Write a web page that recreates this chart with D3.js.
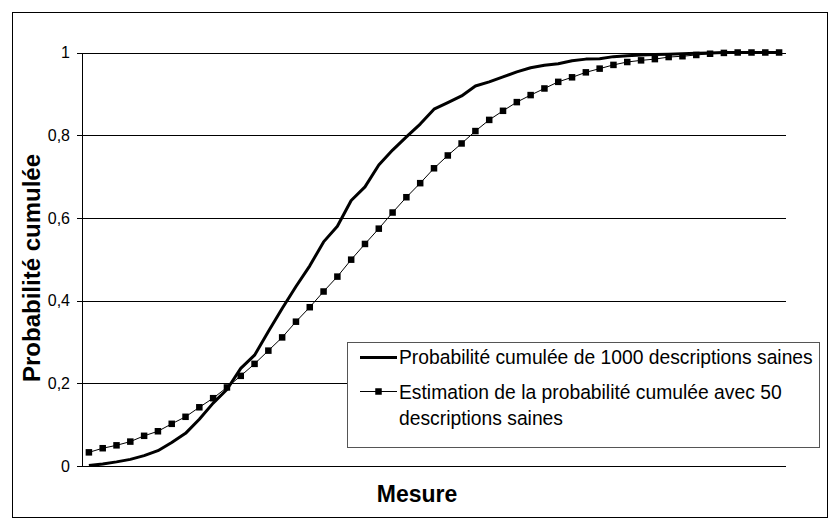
<!DOCTYPE html>
<html>
<head>
<meta charset="utf-8">
<script src="https://cdn.jsdelivr.net/npm/d3@7"></script>
<style>
  body { margin: 0; background: #fff; }
  text { font-family: "Liberation Sans", Arial, sans-serif; }
</style>
</head>
<body>
<div id="chart"></div>
<script>
// data (51 categories, no x labels)
var sample1000 = [0.001, 0.005, 0.010, 0.016, 0.025, 0.037, 0.057, 0.079, 0.113, 0.152,
  0.185, 0.236, 0.268, 0.325, 0.381, 0.434, 0.484, 0.542, 0.580, 0.642,
  0.675, 0.728, 0.764, 0.796, 0.827, 0.863, 0.879, 0.895, 0.919, 0.929,
  0.941, 0.953, 0.963, 0.969, 0.973, 0.980, 0.984, 0.985, 0.990, 0.992,
  0.994, 0.995, 0.996, 0.997, 0.998, 0.999, 1.0, 1.0, 1.0, 1.0, 1.0];
var estim50 = [0.033, 0.043, 0.050, 0.059, 0.073, 0.084, 0.102, 0.119, 0.142, 0.164,
  0.190, 0.218, 0.247, 0.279, 0.311, 0.349, 0.384, 0.422, 0.458, 0.499,
  0.537, 0.574, 0.613, 0.650, 0.684, 0.720, 0.751, 0.780, 0.810, 0.837,
  0.859, 0.880, 0.897, 0.913, 0.929, 0.940, 0.952, 0.961, 0.970, 0.977,
  0.981, 0.984, 0.989, 0.991, 0.994, 0.997, 0.999, 1.0, 1.0, 1.0, 1.0];
var yTicks = [0, 0.2, 0.4, 0.6, 0.8, 1];
var yTickLabels = ["0", "0,2", "0,4", "0,6", "0,8", "1"];
var seriesNames = ["Probabilité cumulée de 1000 descriptions saines",
  "Estimation de la probabilité cumulée avec 50", "descriptions saines"];

var width = 829, height = 520;
var plotL = 82, plotR = 786, plotT = 52.5, plotB = 466;

var svg = d3.select("#chart").append("svg")
  .attr("width", width)
  .attr("height", height);

svg.append("rect")
  .attr("x", 12.5).attr("y", 12.5)
  .attr("width", 815).attr("height", 505)
  .attr("fill", "#fff").attr("stroke", "#000");

var x = d3.scaleBand()
  .domain(d3.range(sample1000.length))
  .range([plotL, plotR])
  .padding(0);
var y = d3.scaleLinear().domain([0, 1]).range([plotB, plotT]);
var cx = function(i) { return x(i) + x.bandwidth() / 2; };

// gridlines
svg.selectAll(".grid")
  .data(yTicks.filter(function(d) { return d > 0; }))
  .enter().append("line")
    .attr("x1", plotL).attr("x2", plotR)
    .attr("y1", function(d) { return Math.round(y(d)) + 0.5; })
    .attr("y2", function(d) { return Math.round(y(d)) + 0.5; })
    .attr("stroke", "#000").attr("stroke-width", 1);

// y axis
var yAxis = d3.axisLeft(y)
  .tickValues(yTicks)
  .tickSize(5)
  .tickPadding(7)
  .tickFormat(function(d, i) { return yTickLabels[i]; });
var gy = svg.append("g")
  .attr("transform", "translate(" + plotL + ",0)")
  .call(yAxis);
gy.select(".domain").attr("stroke", "#000").attr("shape-rendering", "crispEdges");
gy.selectAll(".tick line").attr("stroke", "#000").attr("shape-rendering", "crispEdges");
gy.selectAll(".tick text")
  .style("font-family", "'Liberation Sans', Arial, sans-serif")
  .style("font-size", "16px")
  .attr("fill", "#000");

// x axis line (no ticks, no labels)
svg.append("line")
  .attr("x1", plotL).attr("x2", plotR)
  .attr("y1", plotB).attr("y2", plotB)
  .attr("stroke", "#000")
  .attr("shape-rendering", "crispEdges");

var line = d3.line()
  .x(function(d, i) { return cx(i); })
  .y(function(d) { return y(d); });

svg.append("path")
  .datum(estim50)
  .attr("d", line)
  .attr("fill", "none")
  .attr("stroke", "#000")
  .attr("stroke-width", 1);

svg.selectAll(".mark")
  .data(estim50)
  .enter().append("rect")
    .attr("x", function(d, i) { return cx(i) - 3.25; })
    .attr("y", function(d) { return y(d) - 3.25; })
    .attr("width", 6.5).attr("height", 6.5)
    .attr("fill", "#000");

svg.append("path")
  .datum(sample1000)
  .attr("d", line)
  .attr("fill", "none")
  .attr("stroke", "#000")
  .attr("stroke-width", 3)
  .attr("stroke-linejoin", "round");

// axis titles
svg.append("text")
  .attr("x", 417).attr("y", 502)
  .attr("text-anchor", "middle")
  .style("font-size", "23px").style("font-weight", "bold")
  .text("Mesure");

svg.append("text")
  .attr("transform", "translate(40,268) rotate(-90)")
  .attr("text-anchor", "middle")
  .style("font-size", "24px").style("font-weight", "bold")
  .text("Probabilité cumulée");

// legend
var lg = svg.append("g");
lg.append("rect")
  .attr("x", 347.5).attr("y", 342.5)
  .attr("width", 472).attr("height", 105)
  .attr("fill", "#fff").attr("stroke", "#555");
lg.append("line")
  .attr("x1", 360).attr("x2", 397).attr("y1", 357.5).attr("y2", 357.5)
  .attr("stroke", "#000").attr("stroke-width", 3);
lg.append("line")
  .attr("x1", 360).attr("x2", 397).attr("y1", 391.5).attr("y2", 391.5)
  .attr("stroke", "#000").attr("stroke-width", 1);
lg.append("rect")
  .attr("x", 375.25).attr("y", 388.25).attr("width", 6.5).attr("height", 6.5)
  .attr("fill", "#000");
lg.selectAll(".ltxt")
  .data(seriesNames)
  .enter().append("text")
    .attr("x", 399)
    .attr("y", function(d, i) { return [364, 398.5, 425][i]; })
    .style("font-size", "19.3px")
    .text(function(d) { return d; });
</script>
</body>
</html>
